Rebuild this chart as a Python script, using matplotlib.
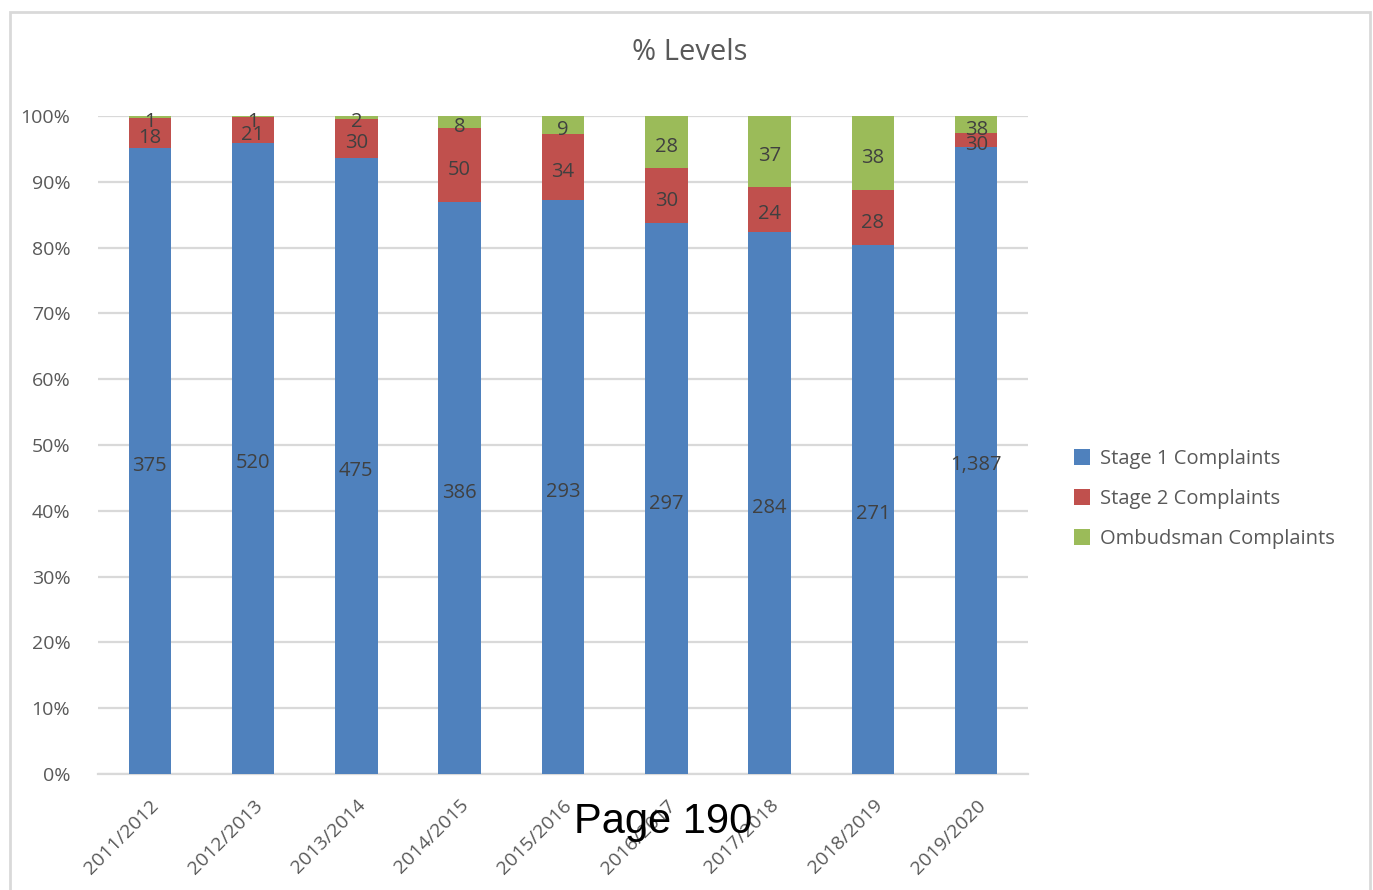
import numpy as np
import matplotlib.pyplot as plt
from matplotlib.patches import Rectangle
from matplotlib.ticker import PercentFormatter

# Complaint counts per financial year ============================================ #
years = ['2011/2012', '2012/2013', '2013/2014', '2014/2015', '2015/2016',
         '2016/2017', '2017/2018', '2018/2019', '2019/2020']
stage1 = [375, 520, 475, 386, 293, 297, 284, 271, 1387]
stage2 = [18, 21, 30, 50, 34, 30, 24, 28, 30]
ombudsman = [1, 1, 2, 8, 9, 28, 37, 38, 38]

series = [('Stage 1 Complaints', stage1, '#4F81BD'),
          ('Stage 2 Complaints', stage2, '#C0504D'),
          ('Ombudsman Complaints', ombudsman, '#9BBB59')]

plt.rcParams['font.family'] = ['Open Sans', 'DejaVu Sans']
text_grey = '#595959'
label_grey = '#404040'

fig = plt.figure(figsize=(13.73, 8.9), dpi=100)
ax = fig.add_axes([0.0714, 0.1303, 0.6773, 0.7394])

# outer chart frame ------------------------------------------------------------- #
fig.patches.append(Rectangle((10 / 1373, -0.05), 1360 / 1373, 1.05 - 12 / 890,
                             transform=fig.transFigure, fill=False,
                             edgecolor='#D9D9D9', linewidth=2))

# stacked 100% bars -------------------------------------------------------------- #
totals = np.sum([np.array(v) for _, v, _ in series], axis=0)
x = np.arange(len(years))
bottom = np.zeros(len(years))
for name, vals, colour in series:
    share = np.array(vals) / totals * 100
    ax.bar(x, share, width=0.41, bottom=bottom, color=colour, label=name, zorder=3)
    for xi, b, s, v in zip(x, bottom, share, vals):
        ax.annotate(f'{v:,}', (xi, b + s / 2), xytext=(0, -5),
                    textcoords='offset pixels', ha='center', va='center',
                    fontsize=14.5, color=label_grey, zorder=4)
    bottom += share

ax.set_xlim(-0.5, len(years) - 0.5)
ax.set_ylim(0, 100)
ax.set_yticks(np.arange(0, 101, 10))
ax.yaxis.set_major_formatter(PercentFormatter(decimals=0))
ax.grid(axis='y', color='#D9D9D9', linewidth=1.6, zorder=0)
ax.set_xticks(x)
ax.set_xticklabels(years, rotation=45, ha='right', rotation_mode='anchor')
ax.tick_params(length=0, labelsize=14, colors=text_grey)
ax.tick_params(axis='y', pad=20)
ax.tick_params(axis='x', pad=16)
for side in ['top', 'right', 'left']:
    ax.spines[side].set_visible(False)
ax.spines['bottom'].set_color('#D9D9D9')
ax.spines['bottom'].set_linewidth(1.6)

fig.text(0.502, 0.941, '% Levels', ha='center', va='center', fontsize=21,
         color=text_grey)

leg = ax.legend(loc='center left', bbox_to_anchor=(1.03, 0.418), frameon=False,
                fontsize=14.5, handlelength=0.8, handleheight=0.8,
                handletextpad=0.5, labelspacing=1.0)
for t in leg.get_texts():
    t.set_color(text_grey)

fig.text(0.483, 0.076, 'Page 190', ha='center', va='center', fontsize=30,
         color='black', family='Liberation Sans')

fig.savefig('out.png', dpi=100)
